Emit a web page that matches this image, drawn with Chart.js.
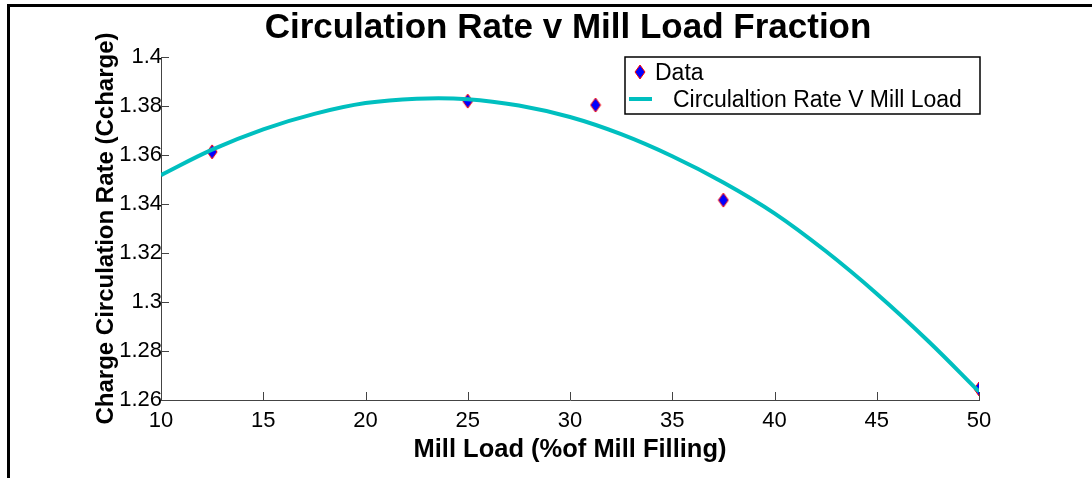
<!DOCTYPE html>
<html>
<head>
<meta charset="utf-8">
<script src="https://cdn.jsdelivr.net/npm/chart.js@4"></script>
<style>
  html, body { margin: 0; padding: 0; background: #fff; }
  #wrap { width: 1092px; height: 478px; }
</style>
</head>
<body>
<div id="wrap"><canvas id="chart" width="1092" height="478"></canvas></div>
<script>
// Measured data points
const millLoad = [12.5, 25, 31.25, 37.5, 50];
const circRate = [1.3613, 1.3820, 1.3804, 1.3416, 1.2645];

// Fitted curve
const fitLoad = [10, 12.5, 15, 17.5, 20, 22.5, 25, 27.5, 30, 32.5, 35, 37.5, 40, 42.5, 45, 47.5, 50];
const fitRate = [1.3518, 1.3622, 1.3705, 1.3768, 1.3812, 1.3830, 1.3828, 1.3802, 1.3755,
                 1.3685, 1.3595, 1.3488, 1.3362, 1.3208, 1.3034, 1.2842, 1.2634];

// Axis ticks
const xTicks = [10, 15, 20, 25, 30, 35, 40, 45, 50];
const yTicks = [1.26, 1.28, 1.3, 1.32, 1.34, 1.36, 1.38, 1.4];
const yTickLabels = ['1.26', '1.28', '1.3', '1.32', '1.34', '1.36', '1.38', '1.4'];

const titleText = 'Circulation Rate v Mill Load Fraction';
const legendLabels = ['Data', 'Circulaltion Rate V Mill Load'];

const CYAN = '#00bfbf';
const FONT = 'Arial, "Liberation Sans", sans-serif';

// Diamond marker: blue fill, red edge
function makeDiamond(w, h) {
    const c = document.createElement('canvas');
    c.width = w + 2; c.height = h + 2;
    const g = c.getContext('2d');
    g.beginPath();
    g.moveTo(c.width / 2, 1);
    g.lineTo(c.width - 1, c.height / 2);
    g.lineTo(c.width / 2, c.height - 1);
    g.lineTo(1, c.height / 2);
    g.closePath();
    g.fillStyle = '#0000ff';
    g.fill();
    g.strokeStyle = '#ff0000';
    g.lineWidth = 1;
    g.stroke();
    return c;
}
const diamond = makeDiamond(10, 14);

// Frame, title, inward tick marks and legend
const decorations = {
    id: 'decorations',
    beforeDraw(chart) {
        const ctx = chart.ctx;
        ctx.save();
        ctx.fillStyle = '#000';
        ctx.fillRect(7, 4, 1092 - 7, 3);
        ctx.fillRect(7, 4, 3, 478 - 4);
        ctx.restore();
    },
    afterDraw(chart) {
        const ctx = chart.ctx;
        const x = chart.scales.x, y = chart.scales.y;
        const area = chart.chartArea;
        ctx.save();
        // title
        ctx.fillStyle = '#000';
        ctx.font = 'bold 35px ' + FONT;
        ctx.textAlign = 'center';
        ctx.textBaseline = 'middle';
        ctx.fillText(titleText, 568, 28);

        // inward ticks
        ctx.strokeStyle = '#444';
        ctx.lineWidth = 1;
        ctx.beginPath();
        xTicks.forEach(v => {
            const px = Math.round(x.getPixelForValue(v)) + 0.5;
            ctx.moveTo(px, area.bottom);
            ctx.lineTo(px, area.bottom - 8);
        });
        yTicks.forEach(v => {
            const py = Math.round(y.getPixelForValue(v)) + 0.5;
            ctx.moveTo(area.left, py);
            ctx.lineTo(area.left + 8, py);
        });
        ctx.stroke();

        // legend box
        const lx = 625, ly = 57, lw = 355, lh = 57;
        ctx.fillStyle = '#fff';
        ctx.fillRect(lx, ly, lw, lh);
        ctx.strokeStyle = '#000';
        ctx.lineWidth = 1.5;
        ctx.strokeRect(lx, ly, lw, lh);
        ctx.drawImage(diamond, 640 - diamond.width / 2, 72 - diamond.height / 2);
        ctx.strokeStyle = CYAN;
        ctx.lineWidth = 4;
        ctx.beginPath();
        ctx.moveTo(629, 99);
        ctx.lineTo(652, 99);
        ctx.stroke();
        ctx.fillStyle = '#000';
        ctx.font = '23px ' + FONT;
        ctx.textAlign = 'left';
        ctx.textBaseline = 'middle';
        ctx.fillText(legendLabels[0], 655, 74);
        ctx.fillText(legendLabels[1], 673, 101);
        ctx.restore();
    }
};

new Chart(document.getElementById('chart'), {
    type: 'scatter',
    data: {
        datasets: [
            {
                label: legendLabels[1],
                type: 'line',
                data: fitLoad.map((v, i) => ({ x: v, y: fitRate[i] })),
                borderColor: CYAN,
                borderWidth: 4,
                pointRadius: 0,
                tension: 0.4,
                fill: false,
                order: 0
            },
            {
                label: legendLabels[0],
                data: millLoad.map((v, i) => ({ x: v, y: circRate[i] })),
                pointStyle: diamond,
                pointRadius: 7,
                order: 1
            }
        ]
    },
    options: {
        responsive: false,
        animation: false,
        layout: { padding: { left: 0, right: 113, top: 57, bottom: 0 } },
        plugins: {
            legend: { display: false },
            title: { display: false },
            tooltip: { enabled: false }
        },
        scales: {
            x: {
                type: 'linear',
                min: 10,
                max: 50,
                afterFit: s => { s.height = 78; },
                afterBuildTicks: s => { s.ticks = xTicks.map(v => ({ value: v })); },
                grid: { display: false, drawTicks: false },
                border: { display: true, color: '#444', width: 1 },
                ticks: {
                    color: '#000',
                    padding: 8,
                    font: { family: FONT, size: 22 },
                    maxRotation: 0
                },
                title: {
                    display: true,
                    text: 'Mill Load (%of Mill Filling)',
                    color: '#000',
                    font: { family: FONT, size: 25.5, weight: 'bold' },
                    padding: { top: 0, bottom: 13 }
                }
            },
            y: {
                type: 'linear',
                min: 1.26,
                max: 1.4,
                afterFit: s => { s.width = 161; },
                afterBuildTicks: s => { s.ticks = yTicks.map(v => ({ value: v })); },
                grid: { display: false, drawTicks: false },
                border: { display: true, color: '#444', width: 1 },
                ticks: {
                    color: '#000',
                    padding: -1,
                    font: { family: FONT, size: 22 },
                    callback: (v, i) => yTickLabels[i]
                },
                title: {
                    display: true,
                    text: 'Charge Circulation Rate (Ccharge)',
                    color: '#000',
                    font: { family: FONT, size: 24, weight: 'bold' },
                    padding: { top: 92, bottom: 0 }
                }
            }
        }
    },
    plugins: [decorations]
});
</script>
</body>
</html>
